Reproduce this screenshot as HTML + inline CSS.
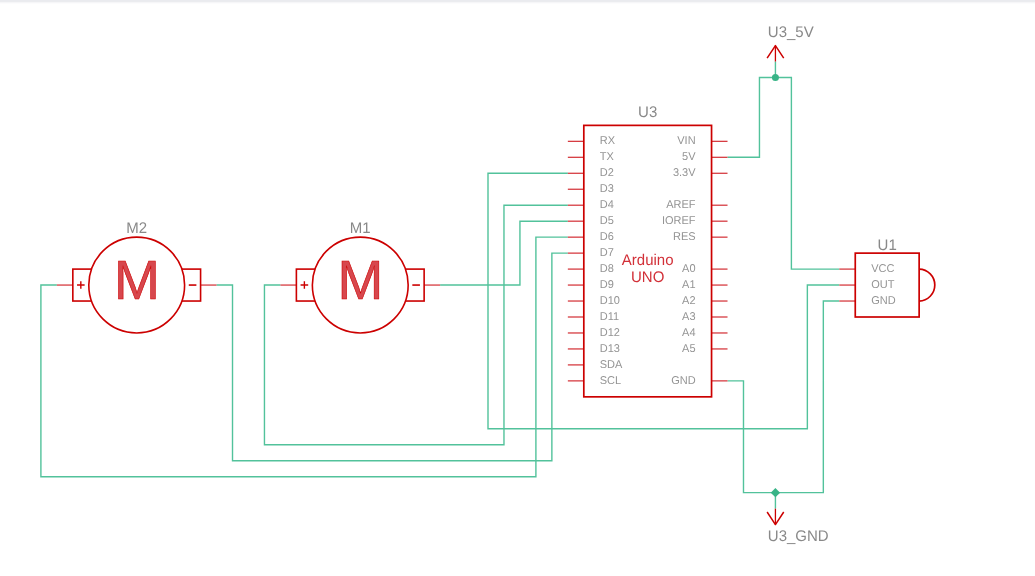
<!DOCTYPE html>
<html><head><meta charset="utf-8"><style>
html,body{margin:0;padding:0;background:#fff;width:1035px;height:576px;overflow:hidden}
svg{position:absolute;left:0;top:0;font-family:"Liberation Sans", sans-serif;transform:translateZ(0);text-rendering:geometricPrecision}
.bar{position:absolute;left:0;width:1035px;height:1px}
</style></head><body>
<svg width="1035" height="576" viewBox="0 0 1035 576">
<polyline points="567.84,173.29 488.0,173.29 488.0,428.78 807.36,428.78 807.36,285.06 839.3,285.06" fill="none" stroke="#52c29b" stroke-width="1.4" stroke-linejoin="miter" stroke-linecap="butt"/>
<polyline points="567.84,205.22 503.97,205.22 503.97,444.74 264.45,444.74 264.45,285.06 280.42,285.06" fill="none" stroke="#52c29b" stroke-width="1.4" stroke-linejoin="miter" stroke-linecap="butt"/>
<polyline points="567.84,221.19 519.94,221.19 519.94,285.06 440.1,285.06" fill="none" stroke="#52c29b" stroke-width="1.4" stroke-linejoin="miter" stroke-linecap="butt"/>
<polyline points="567.84,237.16 535.9,237.16 535.9,476.68 40.9,476.68 40.9,285.06 56.86,285.06" fill="none" stroke="#52c29b" stroke-width="1.4" stroke-linejoin="miter" stroke-linecap="butt"/>
<polyline points="567.84,253.13 551.87,253.13 551.87,460.71 232.51,460.71 232.51,285.06 216.54,285.06" fill="none" stroke="#52c29b" stroke-width="1.4" stroke-linejoin="miter" stroke-linecap="butt"/>
<polyline points="727.52,157.32 759.46,157.32 759.46,77.48 791.39,77.48 791.39,269.1 839.3,269.1" fill="none" stroke="#52c29b" stroke-width="1.4" stroke-linejoin="miter" stroke-linecap="butt"/>
<polyline points="775.42,77.48 775.42,61.51" fill="none" stroke="#52c29b" stroke-width="1.4" stroke-linejoin="miter" stroke-linecap="butt"/>
<polyline points="727.52,380.87 743.49,380.87 743.49,492.65 823.33,492.65 823.33,301.03 839.3,301.03" fill="none" stroke="#52c29b" stroke-width="1.4" stroke-linejoin="miter" stroke-linecap="butt"/>
<polyline points="775.42,492.65 775.42,508.62" fill="none" stroke="#52c29b" stroke-width="1.4" stroke-linejoin="miter" stroke-linecap="butt"/>
<circle cx="775.42" cy="77.48" r="3.5" fill="#38b487"/>
<polygon points="770.7199999999999,492.65 775.42,487.95 780.12,492.65 775.42,497.34999999999997" fill="#38b487"/>
<polyline points="775.42,61.51 775.42,45.54" fill="none" stroke="#cc0000" stroke-width="1.3" stroke-linejoin="miter" stroke-linecap="butt"/>
<polyline points="767.12,58.14 775.42,45.54 783.7199999999999,58.14" fill="none" stroke="#cc0000" stroke-width="1.5" stroke-linejoin="round"/>
<polyline points="775.42,508.62 775.42,524.58" fill="none" stroke="#cc0000" stroke-width="1.3" stroke-linejoin="miter" stroke-linecap="butt"/>
<polyline points="767.12,511.98 775.42,524.58 783.7199999999999,511.98" fill="none" stroke="#cc0000" stroke-width="1.5" stroke-linejoin="round"/>
<text transform="translate(767.8 37.0) scale(1 1.03)" font-size="15.0" fill="#898989" text-anchor="start">U3_5V</text>
<text transform="translate(767.8 540.7) scale(1 1.03)" font-size="15.0" fill="#898989" text-anchor="start">U3_GND</text>
<polyline points="567.84,141.35 583.81,141.35" fill="none" stroke="#d63c42" stroke-width="1.3" stroke-linejoin="miter" stroke-linecap="butt"/>
<text transform="translate(599.78 144.15) scale(1 1.03)" font-size="11" fill="#949494" text-anchor="start">RX</text>
<polyline points="567.84,157.32 583.81,157.32" fill="none" stroke="#d63c42" stroke-width="1.3" stroke-linejoin="miter" stroke-linecap="butt"/>
<text transform="translate(599.78 160.12) scale(1 1.03)" font-size="11" fill="#949494" text-anchor="start">TX</text>
<polyline points="567.84,173.29 583.81,173.29" fill="none" stroke="#d63c42" stroke-width="1.3" stroke-linejoin="miter" stroke-linecap="butt"/>
<text transform="translate(599.78 176.09) scale(1 1.03)" font-size="11" fill="#949494" text-anchor="start">D2</text>
<polyline points="567.84,189.26 583.81,189.26" fill="none" stroke="#d63c42" stroke-width="1.3" stroke-linejoin="miter" stroke-linecap="butt"/>
<text transform="translate(599.78 192.06) scale(1 1.03)" font-size="11" fill="#949494" text-anchor="start">D3</text>
<polyline points="567.84,205.22 583.81,205.22" fill="none" stroke="#d63c42" stroke-width="1.3" stroke-linejoin="miter" stroke-linecap="butt"/>
<text transform="translate(599.78 208.02) scale(1 1.03)" font-size="11" fill="#949494" text-anchor="start">D4</text>
<polyline points="567.84,221.19 583.81,221.19" fill="none" stroke="#d63c42" stroke-width="1.3" stroke-linejoin="miter" stroke-linecap="butt"/>
<text transform="translate(599.78 223.99) scale(1 1.03)" font-size="11" fill="#949494" text-anchor="start">D5</text>
<polyline points="567.84,237.16 583.81,237.16" fill="none" stroke="#d63c42" stroke-width="1.3" stroke-linejoin="miter" stroke-linecap="butt"/>
<text transform="translate(599.78 239.96) scale(1 1.03)" font-size="11" fill="#949494" text-anchor="start">D6</text>
<polyline points="567.84,253.13 583.81,253.13" fill="none" stroke="#d63c42" stroke-width="1.3" stroke-linejoin="miter" stroke-linecap="butt"/>
<text transform="translate(599.78 255.93) scale(1 1.03)" font-size="11" fill="#949494" text-anchor="start">D7</text>
<polyline points="567.84,269.1 583.81,269.1" fill="none" stroke="#d63c42" stroke-width="1.3" stroke-linejoin="miter" stroke-linecap="butt"/>
<text transform="translate(599.78 271.9) scale(1 1.03)" font-size="11" fill="#949494" text-anchor="start">D8</text>
<polyline points="567.84,285.06 583.81,285.06" fill="none" stroke="#d63c42" stroke-width="1.3" stroke-linejoin="miter" stroke-linecap="butt"/>
<text transform="translate(599.78 287.86) scale(1 1.03)" font-size="11" fill="#949494" text-anchor="start">D9</text>
<polyline points="567.84,301.03 583.81,301.03" fill="none" stroke="#d63c42" stroke-width="1.3" stroke-linejoin="miter" stroke-linecap="butt"/>
<text transform="translate(599.78 303.83) scale(1 1.03)" font-size="11" fill="#949494" text-anchor="start">D10</text>
<polyline points="567.84,317.0 583.81,317.0" fill="none" stroke="#d63c42" stroke-width="1.3" stroke-linejoin="miter" stroke-linecap="butt"/>
<text transform="translate(599.78 319.8) scale(1 1.03)" font-size="11" fill="#949494" text-anchor="start">D11</text>
<polyline points="567.84,332.97 583.81,332.97" fill="none" stroke="#d63c42" stroke-width="1.3" stroke-linejoin="miter" stroke-linecap="butt"/>
<text transform="translate(599.78 335.77) scale(1 1.03)" font-size="11" fill="#949494" text-anchor="start">D12</text>
<polyline points="567.84,348.94 583.81,348.94" fill="none" stroke="#d63c42" stroke-width="1.3" stroke-linejoin="miter" stroke-linecap="butt"/>
<text transform="translate(599.78 351.74) scale(1 1.03)" font-size="11" fill="#949494" text-anchor="start">D13</text>
<polyline points="567.84,364.9 583.81,364.9" fill="none" stroke="#d63c42" stroke-width="1.3" stroke-linejoin="miter" stroke-linecap="butt"/>
<text transform="translate(599.78 367.7) scale(1 1.03)" font-size="11" fill="#949494" text-anchor="start">SDA</text>
<polyline points="567.84,380.87 583.81,380.87" fill="none" stroke="#d63c42" stroke-width="1.3" stroke-linejoin="miter" stroke-linecap="butt"/>
<text transform="translate(599.78 383.67) scale(1 1.03)" font-size="11" fill="#949494" text-anchor="start">SCL</text>
<polyline points="711.55,141.35 727.52,141.35" fill="none" stroke="#d63c42" stroke-width="1.3" stroke-linejoin="miter" stroke-linecap="butt"/>
<text transform="translate(695.58 144.15) scale(1 1.03)" font-size="11" fill="#949494" text-anchor="end">VIN</text>
<polyline points="711.55,157.32 727.52,157.32" fill="none" stroke="#d63c42" stroke-width="1.3" stroke-linejoin="miter" stroke-linecap="butt"/>
<text transform="translate(695.58 160.12) scale(1 1.03)" font-size="11" fill="#949494" text-anchor="end">5V</text>
<polyline points="711.55,173.29 727.52,173.29" fill="none" stroke="#d63c42" stroke-width="1.3" stroke-linejoin="miter" stroke-linecap="butt"/>
<text transform="translate(695.58 176.09) scale(1 1.03)" font-size="11" fill="#949494" text-anchor="end">3.3V</text>
<polyline points="711.55,205.22 727.52,205.22" fill="none" stroke="#d63c42" stroke-width="1.3" stroke-linejoin="miter" stroke-linecap="butt"/>
<text transform="translate(695.58 208.02) scale(1 1.03)" font-size="11" fill="#949494" text-anchor="end">AREF</text>
<polyline points="711.55,221.19 727.52,221.19" fill="none" stroke="#d63c42" stroke-width="1.3" stroke-linejoin="miter" stroke-linecap="butt"/>
<text transform="translate(695.58 223.99) scale(1 1.03)" font-size="11" fill="#949494" text-anchor="end">IOREF</text>
<polyline points="711.55,237.16 727.52,237.16" fill="none" stroke="#d63c42" stroke-width="1.3" stroke-linejoin="miter" stroke-linecap="butt"/>
<text transform="translate(695.58 239.96) scale(1 1.03)" font-size="11" fill="#949494" text-anchor="end">RES</text>
<polyline points="711.55,269.1 727.52,269.1" fill="none" stroke="#d63c42" stroke-width="1.3" stroke-linejoin="miter" stroke-linecap="butt"/>
<text transform="translate(695.58 271.9) scale(1 1.03)" font-size="11" fill="#949494" text-anchor="end">A0</text>
<polyline points="711.55,285.06 727.52,285.06" fill="none" stroke="#d63c42" stroke-width="1.3" stroke-linejoin="miter" stroke-linecap="butt"/>
<text transform="translate(695.58 287.86) scale(1 1.03)" font-size="11" fill="#949494" text-anchor="end">A1</text>
<polyline points="711.55,301.03 727.52,301.03" fill="none" stroke="#d63c42" stroke-width="1.3" stroke-linejoin="miter" stroke-linecap="butt"/>
<text transform="translate(695.58 303.83) scale(1 1.03)" font-size="11" fill="#949494" text-anchor="end">A2</text>
<polyline points="711.55,317.0 727.52,317.0" fill="none" stroke="#d63c42" stroke-width="1.3" stroke-linejoin="miter" stroke-linecap="butt"/>
<text transform="translate(695.58 319.8) scale(1 1.03)" font-size="11" fill="#949494" text-anchor="end">A3</text>
<polyline points="711.55,332.97 727.52,332.97" fill="none" stroke="#d63c42" stroke-width="1.3" stroke-linejoin="miter" stroke-linecap="butt"/>
<text transform="translate(695.58 335.77) scale(1 1.03)" font-size="11" fill="#949494" text-anchor="end">A4</text>
<polyline points="711.55,348.94 727.52,348.94" fill="none" stroke="#d63c42" stroke-width="1.3" stroke-linejoin="miter" stroke-linecap="butt"/>
<text transform="translate(695.58 351.74) scale(1 1.03)" font-size="11" fill="#949494" text-anchor="end">A5</text>
<polyline points="711.55,380.87 727.52,380.87" fill="none" stroke="#d63c42" stroke-width="1.3" stroke-linejoin="miter" stroke-linecap="butt"/>
<text transform="translate(695.58 383.67) scale(1 1.03)" font-size="11" fill="#949494" text-anchor="end">GND</text>
<rect x="583.81" y="125.38" width="127.74000000000001" height="271.46" fill="none" stroke="#cc0000" stroke-width="1.7"/>
<text transform="translate(647.68 117.0) scale(1 1.03)" font-size="15.0" fill="#898989" text-anchor="middle">U3</text>
<text transform="translate(647.68 264.7) scale(1 1.03)" font-size="15.0" fill="#d23038" text-anchor="middle">Arduino</text>
<text transform="translate(647.68 281.7) scale(1 1.03)" font-size="15.0" fill="#d23038" text-anchor="middle">UNO</text>
<polyline points="839.3,269.1 855.26,269.1" fill="none" stroke="#d63c42" stroke-width="1.3" stroke-linejoin="miter" stroke-linecap="butt"/>
<polyline points="839.3,285.06 855.26,285.06" fill="none" stroke="#d63c42" stroke-width="1.3" stroke-linejoin="miter" stroke-linecap="butt"/>
<polyline points="839.3,301.03 855.26,301.03" fill="none" stroke="#d63c42" stroke-width="1.3" stroke-linejoin="miter" stroke-linecap="butt"/>
<rect x="855.26" y="253.13" width="63.879999999999995" height="63.870000000000005" fill="none" stroke="#cc0000" stroke-width="1.7"/>
<path d="M919.14,269.1 A15.968,15.968 0 0 1 919.14,301.03" fill="none" stroke="#cc0000" stroke-width="1.7"/>
<text transform="translate(871.23 271.9) scale(1 1.03)" font-size="11" fill="#949494" text-anchor="start">VCC</text>
<text transform="translate(871.23 287.86) scale(1 1.03)" font-size="11" fill="#949494" text-anchor="start">OUT</text>
<text transform="translate(871.23 303.83) scale(1 1.03)" font-size="11" fill="#949494" text-anchor="start">GND</text>
<text transform="translate(887.2 250.0) scale(1 1.03)" font-size="15.0" fill="#898989" text-anchor="middle">U1</text>
<polyline points="56.86,285.06 72.83,285.06" fill="none" stroke="#d63c42" stroke-width="1.3" stroke-linejoin="miter" stroke-linecap="butt"/>
<polyline points="200.58,285.06 216.54,285.06" fill="none" stroke="#d63c42" stroke-width="1.3" stroke-linejoin="miter" stroke-linecap="butt"/>
<rect x="72.83" y="269.1" width="31.939999999999998" height="31.92999999999995" fill="none" stroke="#cc0000" stroke-width="1.6"/>
<rect x="168.64" y="269.1" width="31.940000000000026" height="31.92999999999995" fill="none" stroke="#cc0000" stroke-width="1.6"/>
<circle cx="136.7" cy="285.06" r="47.903999999999996" fill="#fff" stroke="#cc0000" stroke-width="1.6"/>
<path d="M77.03,285.06 H84.63 M80.83,281.26 V288.86" stroke="#cc0000" stroke-width="1.4" fill="none"/>
<path d="M188.78,285.06 H196.38000000000002" stroke="#cc0000" stroke-width="1.6" fill="none"/>
<text transform="translate(136.89999999999998 298.6)" font-size="55" fill="#d7474d" stroke="#cc0000" stroke-width="0.6" text-anchor="middle">M</text>
<text transform="translate(136.7 232.6) scale(1 1.03)" font-size="15.0" fill="#898989" text-anchor="middle">M2</text>
<polyline points="280.42,285.06 296.38,285.06" fill="none" stroke="#d63c42" stroke-width="1.3" stroke-linejoin="miter" stroke-linecap="butt"/>
<polyline points="424.13,285.06 440.1,285.06" fill="none" stroke="#d63c42" stroke-width="1.3" stroke-linejoin="miter" stroke-linecap="butt"/>
<rect x="296.38" y="269.1" width="31.939999999999998" height="31.92999999999995" fill="none" stroke="#cc0000" stroke-width="1.6"/>
<rect x="392.19" y="269.1" width="31.939999999999998" height="31.92999999999995" fill="none" stroke="#cc0000" stroke-width="1.6"/>
<circle cx="360.26" cy="285.06" r="47.903999999999996" fill="#fff" stroke="#cc0000" stroke-width="1.6"/>
<path d="M300.58,285.06 H308.18 M304.38,281.26 V288.86" stroke="#cc0000" stroke-width="1.4" fill="none"/>
<path d="M412.33,285.06 H419.93" stroke="#cc0000" stroke-width="1.6" fill="none"/>
<text transform="translate(360.46 298.6)" font-size="55" fill="#d7474d" stroke="#cc0000" stroke-width="0.6" text-anchor="middle">M</text>
<text transform="translate(360.26 232.6) scale(1 1.03)" font-size="15.0" fill="#898989" text-anchor="middle">M1</text>
</svg>
<div class="bar" style="top:0;background:#eaebef"></div><div class="bar" style="top:1px;background:#ebecef"></div><div class="bar" style="top:2px;background:#f6f6f8"></div><div class="bar" style="top:3px;background:#fcfcfd"></div>
</body></html>
